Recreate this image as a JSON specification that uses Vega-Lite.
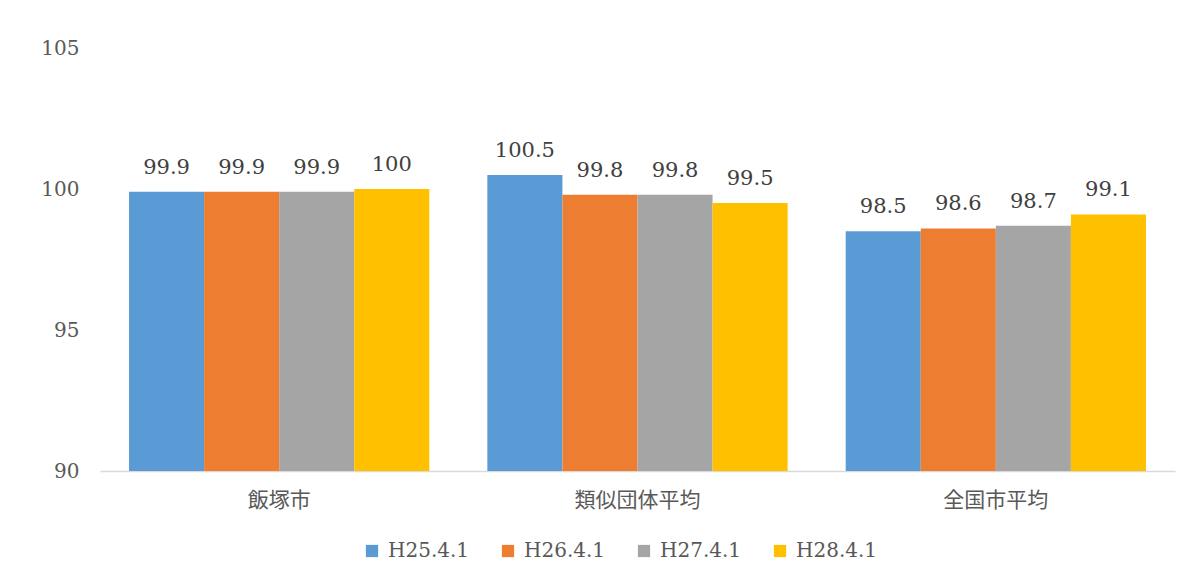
{
  "$schema": "https://vega.github.io/schema/vega-lite/v6.json",
  "autosize": {"type": "none"},
  "padding": {"left": 100, "top": 48, "right": 28, "bottom": 112},
  "width": 1075,
  "height": 423,
  "background": "white",
  "config": {"view": {"stroke": null}},
  "data": {
    "values": [
      {"group": "飯塚市", "series": "H25.4.1", "value": 99.9},
      {"group": "飯塚市", "series": "H26.4.1", "value": 99.9},
      {"group": "飯塚市", "series": "H27.4.1", "value": 99.9},
      {"group": "飯塚市", "series": "H28.4.1", "value": 100},
      {"group": "類似団体平均", "series": "H25.4.1", "value": 100.5},
      {"group": "類似団体平均", "series": "H26.4.1", "value": 99.8},
      {"group": "類似団体平均", "series": "H27.4.1", "value": 99.8},
      {"group": "類似団体平均", "series": "H28.4.1", "value": 99.5},
      {"group": "全国市平均", "series": "H25.4.1", "value": 98.5},
      {"group": "全国市平均", "series": "H26.4.1", "value": 98.6},
      {"group": "全国市平均", "series": "H27.4.1", "value": 98.7},
      {"group": "全国市平均", "series": "H28.4.1", "value": 99.1}
    ]
  },
  "encoding": {
    "x": {
      "field": "group", "type": "nominal", "sort": null,
      "scale": {"paddingInner": 0.162, "paddingOuter": 0.081},
      "axis": {
        "title": null, "labelAngle": 0, "ticks": false, "labelPadding": 18,
        "domainColor": "#d9d9d9", "domainWidth": 1.3,
        "labelFont": "Noto Sans CJK JP", "labelFontSize": 21, "labelColor": "#595959"
      }
    },
    "xOffset": {"field": "series", "type": "nominal", "sort": null},
    "y": {
      "field": "value", "type": "quantitative",
      "scale": {"domain": [90, 105], "zero": false, "clamp": true},
      "axis": {
        "title": null, "values": [90, 95, 100, 105], "grid": false, "domain": false,
        "ticks": false, "labelPadding": 21,
        "labelFont": "DejaVu Serif", "labelFontSize": 20, "labelColor": "#595959"
      }
    }
  },
  "layer": [
    {
      "mark": {"type": "bar"},
      "encoding": {
        "y2": {"datum": 90},
        "color": {
          "field": "series", "type": "nominal", "sort": null,
          "scale": {"domain": ["H25.4.1", "H26.4.1", "H27.4.1", "H28.4.1"], "range": ["#5B9BD5", "#ED7D31", "#A5A5A5", "#FFC000"]},
          "legend": {
            "title": null, "orient": "none", "direction": "horizontal",
            "legendX": 262, "legendY": 493,
            "symbolType": "square", "symbolSize": 150, "symbolStrokeWidth": 0,
            "labelFont": "DejaVu Serif", "labelFontSize": 20, "labelColor": "#595959",
            "labelOffset": 6, "columnPadding": 28
          }
        }
      }
    },
    {
      "mark": {"type": "text", "baseline": "bottom", "dy": -14, "font": "DejaVu Serif", "fontSize": 21, "color": "#404040"},
      "encoding": {"text": {"field": "value", "type": "quantitative"}}
    }
  ]
}
